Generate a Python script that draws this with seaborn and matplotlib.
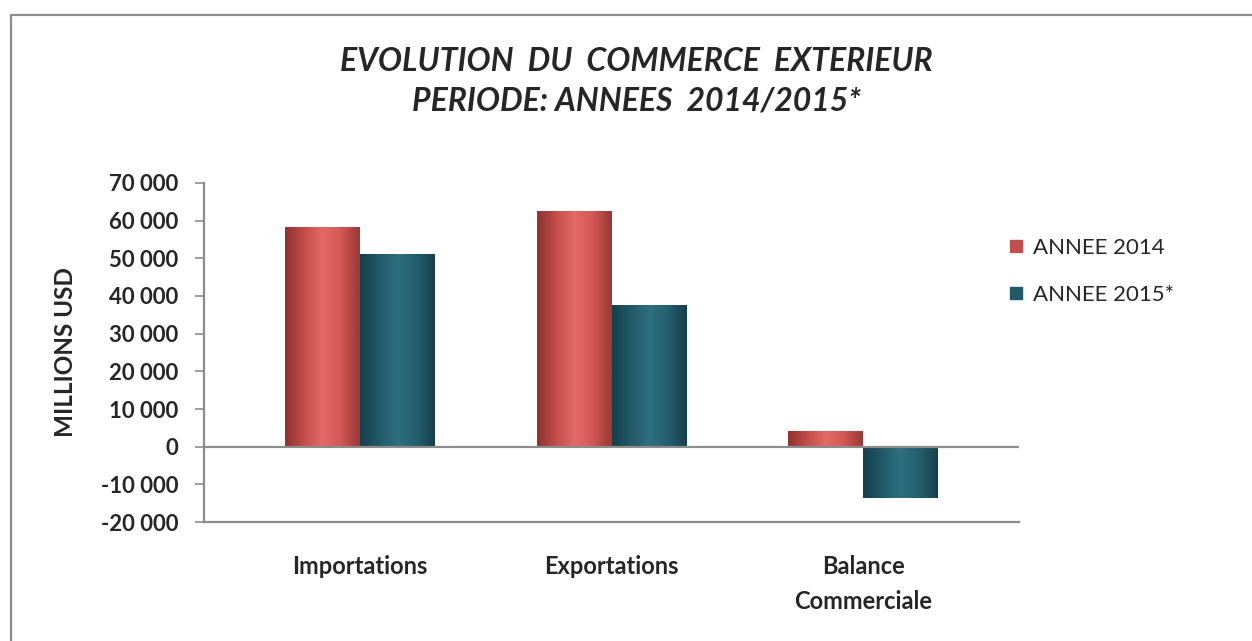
import numpy as np
import pandas as pd
import matplotlib
matplotlib.use("Agg")
import matplotlib.pyplot as plt
from matplotlib.colors import LinearSegmentedColormap
from matplotlib.lines import Line2D
from matplotlib.ticker import FuncFormatter
import seaborn as sns

# --- data (millions USD) ---
categories = ["Importations", "Exportations", "Balance\nCommerciale"]
years = ["ANNEE 2014", "ANNEE 2015*"]
values_2014 = [58300, 62500, 4100]
values_2015 = [51200, 37500, -13600]
y_ticks = [-20000, -10000, 0, 10000, 20000, 30000, 40000, 50000, 60000, 70000]

colors = {"ANNEE 2014": "#C0504D", "ANNEE 2015*": "#215968"}
shades = {
    "ANNEE 2014": ["#8E3330", "#C24D49", "#E26A67", "#D25854", "#9A3835"],
    "ANNEE 2015*": ["#163F4A", "#215968", "#2F6F80", "#24606F", "#173F4B"],
}

df = pd.DataFrame({
    "categorie": categories * 2,
    "annee": [years[0]] * 3 + [years[1]] * 3,
    "valeur": values_2014 + values_2015,
})

sns.set_style("white")
plt.rcParams["font.family"] = ["Lato", "DejaVu Sans"]

fig = plt.figure(figsize=(12.52, 6.41), dpi=100)
ax = fig.add_axes([0.163, 0.1856, 0.651, 0.529])

sns.barplot(data=df, x="categorie", y="valeur", hue="annee", order=categories,
            hue_order=years, palette=colors, width=0.596, ax=ax,
            edgecolor="none", saturation=1, legend=False)

# cylinder-like shading on each bar
for i, patch in enumerate(ax.patches):
    yr = years[i // 3]
    cmap = LinearSegmentedColormap.from_list("s", shades[yr])
    x0, y0 = patch.get_x(), patch.get_y()
    w, h = patch.get_width(), patch.get_height()
    grad = np.linspace(0, 1, 64).reshape(1, -1)
    im = ax.imshow(grad, cmap=cmap, aspect="auto",
                   extent=[x0, x0 + w, y0, y0 + h], zorder=patch.get_zorder() + 0.1)
    im.set_clip_path(patch)

ax.set_xlim(-0.62, 2.62)
ax.set_ylim(-20000, 70000)
ax.set_yticks(y_ticks)
ax.yaxis.set_major_formatter(FuncFormatter(lambda v, p: f"{int(v):,}".replace(",", " ")))
ax.axhline(0, color="#8c8c8c", lw=1.6, zorder=5)

for s in ["top", "right"]:
    ax.spines[s].set_visible(False)
ax.spines["left"].set_color("#8c8c8c")
ax.spines["left"].set_linewidth(1.6)
ax.spines["bottom"].set_color("#8c8c8c")
ax.spines["bottom"].set_linewidth(1.6)

ax.tick_params(axis="y", length=6.5, width=1.2, color="#8c8c8c", pad=12,
               labelsize=16, left=True)
ax.tick_params(axis="x", length=0, pad=24, labelsize=17)
for lab in ax.get_yticklabels() + ax.get_xticklabels():
    lab.set_fontweight("bold")
for lab in ax.get_xticklabels():
    lab.set_linespacing(1.6)

ax.set_xlabel("")
ax.set_ylabel("MILLIONS USD", fontsize=17.5, fontweight="bold", labelpad=17)

fig.text(0.508, 0.904, "EVOLUTION  DU  COMMERCE  EXTERIEUR", ha="center", va="center",
         fontsize=23, fontweight="bold", style="italic")
fig.text(0.508, 0.842, "PERIODE: ANNEES  2014/2015*", ha="center", va="center",
         fontsize=23, fontweight="bold", style="italic")

handles = [Line2D([], [], marker="s", ls="none", markersize=9,
                  markerfacecolor=colors[y], markeredgecolor=colors[y]) for y in years]
fig.legend(handles, years, loc="upper left", bbox_to_anchor=(0.787, 0.66),
           frameon=False, fontsize=16, labelspacing=1.2, handletextpad=0.25,
           handlelength=1.0)

# outer chart frame (top and left edges visible in the reference)
fig.add_artist(Line2D([0.009, 0.009], [0.0, 0.977], color="#8c8c8c", lw=1.6,
                      transform=fig.transFigure))
fig.add_artist(Line2D([0.009, 1.0], [0.977, 0.977], color="#8c8c8c", lw=1.6,
                      transform=fig.transFigure))

fig.savefig("out.png", dpi=100)
